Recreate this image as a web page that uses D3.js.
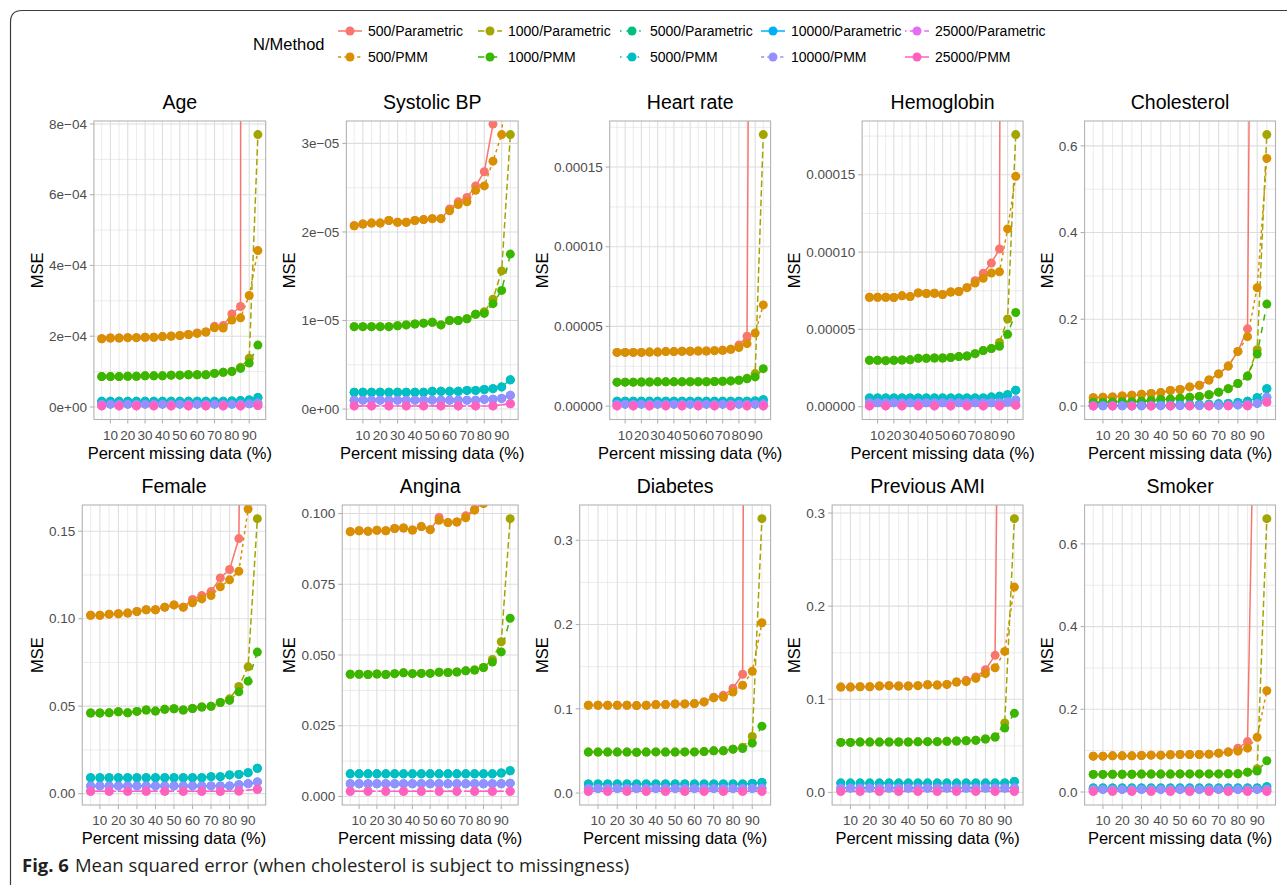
<!DOCTYPE html>
<html>
<head>
<meta charset="utf-8">
<script src="https://cdn.jsdelivr.net/npm/d3@7"></script>
<style>
  html, body { margin: 0; padding: 0; background: #fff; }
  svg { display: block; }
  text { font-family: "Liberation Sans", Arial, Helvetica, sans-serif; }
  .caption { font-family: "Open Sans", "Noto Sans", sans-serif; }
</style>
</head>
<body>
<svg id="chart" width="1287" height="885"></svg>
<script>
// ---- data -------------------------------------------------------------
const pctMissing = [5,10,15,20,25,30,35,40,45,50,55,60,65,70,75,80,85,90,95];
const xTickValues = [10,20,30,40,50,60,70,80,90];
const seriesLabels = ["500/Parametric","500/PMM","1000/Parametric","1000/PMM",
  "5000/Parametric","5000/PMM","10000/Parametric","10000/PMM","25000/Parametric","25000/PMM"];
const panelTitles = ["Age","Systolic BP","Heart rate","Hemoglobin","Cholesterol",
  "Female","Angina","Diabetes","Previous AMI","Smoker"];

// rows follow seriesLabels; 25000 runs were only done every 10%
const mseAge = [
  [1.93e-4,1.95e-4,1.95e-4,1.96e-4,1.96e-4,1.97e-4,1.97e-4,1.99e-4,2.01e-4,2.02e-4,2.05e-4,2.09e-4,2.12e-4,2.28e-4,2.30e-4,2.63e-4,2.84e-4,5.0e-2,9.0e-2],
  [1.93e-4,1.95e-4,1.95e-4,1.96e-4,1.96e-4,1.97e-4,1.97e-4,1.99e-4,2.00e-4,2.02e-4,2.05e-4,2.08e-4,2.12e-4,2.24e-4,2.23e-4,2.46e-4,2.52e-4,3.15e-4,4.42e-4],
  [8.6e-5,8.6e-5,8.6e-5,8.7e-5,8.7e-5,8.8e-5,8.8e-5,8.8e-5,9.0e-5,9.0e-5,9.1e-5,9.1e-5,9.1e-5,9.5e-5,9.8e-5,1.01e-4,1.12e-4,1.38e-4,7.70e-4],
  [8.6e-5,8.6e-5,8.6e-5,8.7e-5,8.7e-5,8.8e-5,8.8e-5,8.8e-5,9.0e-5,9.0e-5,9.1e-5,9.1e-5,9.1e-5,9.5e-5,9.8e-5,1.00e-4,1.09e-4,1.24e-4,1.75e-4],
  [1.6e-5,1.6e-5,1.6e-5,1.6e-5,1.6e-5,1.6e-5,1.6e-5,1.6e-5,1.6e-5,1.6e-5,1.6e-5,1.6e-5,1.6e-5,1.6e-5,1.6e-5,1.7e-5,1.8e-5,2.0e-5,2.7e-5],
  [1.6e-5,1.6e-5,1.6e-5,1.6e-5,1.6e-5,1.6e-5,1.6e-5,1.6e-5,1.6e-5,1.6e-5,1.6e-5,1.6e-5,1.6e-5,1.6e-5,1.6e-5,1.7e-5,1.8e-5,2.0e-5,2.7e-5],
  [8e-6,8e-6,8e-6,8e-6,8e-6,8e-6,8e-6,8e-6,8e-6,8e-6,8e-6,8e-6,8e-6,8e-6,8e-6,8e-6,8e-6,9e-6,1.1e-5],
  [8e-6,8e-6,8e-6,8e-6,8e-6,8e-6,8e-6,8e-6,8e-6,8e-6,8e-6,8e-6,8e-6,8e-6,8e-6,8e-6,8e-6,9e-6,1.1e-5],
  [3e-6,null,3e-6,null,3e-6,null,3e-6,null,3e-6,null,3e-6,null,3e-6,null,3e-6,null,3e-6,null,4e-6],
  [3e-6,null,3e-6,null,3e-6,null,3e-6,null,3e-6,null,3e-6,null,3e-6,null,3e-6,null,3e-6,null,4e-6]
];
const mseSystolic = [
  [2.07e-5,2.09e-5,2.10e-5,2.10e-5,2.13e-5,2.11e-5,2.11e-5,2.13e-5,2.14e-5,2.15e-5,2.15e-5,2.26e-5,2.34e-5,2.39e-5,2.52e-5,2.68e-5,3.22e-5,6.0e-4,9.0e-4],
  [2.07e-5,2.09e-5,2.10e-5,2.10e-5,2.13e-5,2.11e-5,2.11e-5,2.13e-5,2.14e-5,2.15e-5,2.15e-5,2.24e-5,2.31e-5,2.34e-5,2.47e-5,2.52e-5,2.80e-5,3.10e-5,4.5e-5],
  [9.3e-6,9.3e-6,9.3e-6,9.3e-6,9.3e-6,9.4e-6,9.5e-6,9.6e-6,9.7e-6,9.8e-6,9.5e-6,1.00e-5,1.00e-5,1.02e-5,1.07e-5,1.10e-5,1.24e-5,1.56e-5,3.10e-5],
  [9.3e-6,9.3e-6,9.3e-6,9.3e-6,9.3e-6,9.4e-6,9.5e-6,9.6e-6,9.7e-6,9.8e-6,9.5e-6,1.00e-5,1.00e-5,1.02e-5,1.07e-5,1.08e-5,1.19e-5,1.34e-5,1.75e-5],
  [1.9e-6,1.9e-6,1.9e-6,1.9e-6,1.9e-6,1.9e-6,1.9e-6,1.9e-6,1.9e-6,2.0e-6,2.0e-6,2.0e-6,2.0e-6,2.1e-6,2.1e-6,2.2e-6,2.3e-6,2.5e-6,3.3e-6],
  [1.9e-6,1.9e-6,1.9e-6,1.9e-6,1.9e-6,1.9e-6,1.9e-6,1.9e-6,1.9e-6,2.0e-6,2.0e-6,2.0e-6,2.0e-6,2.1e-6,2.1e-6,2.2e-6,2.3e-6,2.5e-6,3.3e-6],
  [1.0e-6,1.0e-6,1.0e-6,1.0e-6,1.0e-6,1.0e-6,1.0e-6,1.0e-6,1.0e-6,1.0e-6,1.0e-6,1.0e-6,1.0e-6,1.0e-6,1.0e-6,1.1e-6,1.1e-6,1.2e-6,1.55e-6],
  [1.0e-6,1.0e-6,1.0e-6,1.0e-6,1.0e-6,1.0e-6,1.0e-6,1.0e-6,1.0e-6,1.0e-6,1.0e-6,1.0e-6,1.0e-6,1.0e-6,1.0e-6,1.1e-6,1.1e-6,1.2e-6,1.55e-6],
  [3.5e-7,null,3.5e-7,null,3.5e-7,null,3.5e-7,null,3.5e-7,null,3.5e-7,null,3.5e-7,null,3.5e-7,null,3.5e-7,null,6e-7],
  [3.5e-7,null,3.5e-7,null,3.5e-7,null,3.5e-7,null,3.5e-7,null,3.5e-7,null,3.5e-7,null,3.5e-7,null,3.5e-7,null,6e-7]
];
const mseHeartRate = [
  [3.37e-5,3.37e-5,3.37e-5,3.37e-5,3.39e-5,3.39e-5,3.42e-5,3.42e-5,3.44e-5,3.44e-5,3.46e-5,3.46e-5,3.48e-5,3.50e-5,3.56e-5,3.83e-5,4.38e-5,1.0e-3,1.5e-3],
  [3.37e-5,3.37e-5,3.37e-5,3.37e-5,3.39e-5,3.39e-5,3.42e-5,3.42e-5,3.44e-5,3.44e-5,3.46e-5,3.46e-5,3.48e-5,3.50e-5,3.56e-5,3.67e-5,3.92e-5,4.58e-5,6.35e-5],
  [1.50e-5,1.50e-5,1.50e-5,1.51e-5,1.51e-5,1.52e-5,1.52e-5,1.52e-5,1.52e-5,1.53e-5,1.53e-5,1.53e-5,1.54e-5,1.56e-5,1.58e-5,1.62e-5,1.75e-5,2.04e-5,1.704e-4],
  [1.50e-5,1.50e-5,1.50e-5,1.51e-5,1.51e-5,1.52e-5,1.52e-5,1.52e-5,1.52e-5,1.53e-5,1.53e-5,1.53e-5,1.54e-5,1.56e-5,1.58e-5,1.62e-5,1.71e-5,1.83e-5,2.35e-5],
  [3.1e-6,3.1e-6,3.1e-6,3.1e-6,3.1e-6,3.1e-6,3.1e-6,3.1e-6,3.1e-6,3.1e-6,3.1e-6,3.1e-6,3.1e-6,3.1e-6,3.1e-6,3.1e-6,3.1e-6,3.2e-6,4.0e-6],
  [3.1e-6,3.1e-6,3.1e-6,3.1e-6,3.1e-6,3.1e-6,3.1e-6,3.1e-6,3.1e-6,3.1e-6,3.1e-6,3.1e-6,3.1e-6,3.1e-6,3.1e-6,3.1e-6,3.1e-6,3.2e-6,4.0e-6],
  [1.2e-6,1.2e-6,1.2e-6,1.2e-6,1.2e-6,1.2e-6,1.2e-6,1.2e-6,1.2e-6,1.2e-6,1.2e-6,1.2e-6,1.2e-6,1.2e-6,1.2e-6,1.2e-6,1.2e-6,1.2e-6,1.4e-6],
  [1.2e-6,1.2e-6,1.2e-6,1.2e-6,1.2e-6,1.2e-6,1.2e-6,1.2e-6,1.2e-6,1.2e-6,1.2e-6,1.2e-6,1.2e-6,1.2e-6,1.2e-6,1.2e-6,1.2e-6,1.2e-6,1.4e-6],
  [1e-7,null,1e-7,null,1e-7,null,1e-7,null,1e-7,null,1e-7,null,1e-7,null,1e-7,null,1e-7,null,1e-7],
  [1e-7,null,1e-7,null,1e-7,null,1e-7,null,1e-7,null,1e-7,null,1e-7,null,1e-7,null,1e-7,null,1e-7]
];
const mseHemoglobin = [
  [7.08e-5,7.08e-5,7.08e-5,7.06e-5,7.17e-5,7.12e-5,7.36e-5,7.32e-5,7.34e-5,7.25e-5,7.42e-5,7.45e-5,7.70e-5,8.15e-5,8.63e-5,9.29e-5,1.02e-4,2.0e-3,3.0e-3],
  [7.08e-5,7.08e-5,7.08e-5,7.06e-5,7.17e-5,7.12e-5,7.36e-5,7.32e-5,7.34e-5,7.25e-5,7.42e-5,7.45e-5,7.70e-5,8.00e-5,8.30e-5,8.65e-5,8.73e-5,1.15e-4,1.49e-4],
  [3.00e-5,3.00e-5,2.98e-5,3.00e-5,3.02e-5,3.03e-5,3.13e-5,3.13e-5,3.15e-5,3.15e-5,3.18e-5,3.24e-5,3.28e-5,3.43e-5,3.63e-5,3.76e-5,4.16e-5,5.67e-5,1.76e-4],
  [3.00e-5,3.00e-5,2.98e-5,3.00e-5,3.02e-5,3.03e-5,3.13e-5,3.13e-5,3.15e-5,3.15e-5,3.18e-5,3.24e-5,3.28e-5,3.43e-5,3.63e-5,3.76e-5,3.91e-5,4.68e-5,6.09e-5],
  [5.6e-6,5.6e-6,5.6e-6,5.6e-6,5.6e-6,5.6e-6,5.6e-6,5.6e-6,5.6e-6,5.6e-6,5.6e-6,5.6e-6,5.6e-6,5.6e-6,5.6e-6,6.2e-6,6.7e-6,7.7e-6,1.07e-5],
  [5.6e-6,5.6e-6,5.6e-6,5.6e-6,5.6e-6,5.6e-6,5.6e-6,5.6e-6,5.6e-6,5.6e-6,5.6e-6,5.6e-6,5.6e-6,5.6e-6,5.6e-6,6.2e-6,6.7e-6,7.7e-6,1.07e-5],
  [2.6e-6,2.6e-6,2.6e-6,2.6e-6,2.6e-6,2.6e-6,2.6e-6,2.6e-6,2.6e-6,2.6e-6,2.6e-6,2.6e-6,2.6e-6,2.6e-6,2.6e-6,2.6e-6,2.6e-6,3.2e-6,4.3e-6],
  [2.6e-6,2.6e-6,2.6e-6,2.6e-6,2.6e-6,2.6e-6,2.6e-6,2.6e-6,2.6e-6,2.6e-6,2.6e-6,2.6e-6,2.6e-6,2.6e-6,2.6e-6,2.6e-6,2.6e-6,3.2e-6,4.3e-6],
  [5e-7,null,5e-7,null,5e-7,null,5e-7,null,5e-7,null,5e-7,null,5e-7,null,5e-7,null,5e-7,null,1.0e-6],
  [5e-7,null,5e-7,null,5e-7,null,5e-7,null,5e-7,null,5e-7,null,5e-7,null,5e-7,null,5e-7,null,1.0e-6]
];
const mseCholesterol = [
  [0.019,0.020,0.021,0.023,0.025,0.027,0.029,0.031,0.036,0.038,0.044,0.048,0.060,0.074,0.092,0.126,0.178,3.2,5.0],
  [0.019,0.020,0.021,0.023,0.025,0.027,0.029,0.031,0.036,0.038,0.044,0.048,0.060,0.074,0.092,0.126,0.160,0.273,0.571],
  [0.008,0.008,0.009,0.010,0.010,0.011,0.013,0.015,0.016,0.018,0.020,0.022,0.026,0.032,0.040,0.052,0.069,0.130,0.626],
  [0.008,0.008,0.009,0.010,0.010,0.011,0.013,0.015,0.016,0.018,0.020,0.022,0.026,0.032,0.040,0.052,0.069,0.120,0.235],
  [0.0015,0.0015,0.0015,0.0018,0.0020,0.0020,0.0020,0.0025,0.0025,0.0030,0.0030,0.0030,0.0040,0.0050,0.0060,0.0080,0.0110,0.0190,0.0400],
  [0.0015,0.0015,0.0015,0.0018,0.0020,0.0020,0.0020,0.0025,0.0025,0.0030,0.0030,0.0030,0.0040,0.0050,0.0060,0.0080,0.0110,0.0190,0.0400],
  [0.0005,0.0005,0.0005,0.0005,0.0005,0.0005,0.0008,0.0008,0.0008,0.0010,0.0010,0.0010,0.0012,0.0015,0.0020,0.0025,0.0035,0.0060,0.0200],
  [0.0005,0.0005,0.0005,0.0005,0.0005,0.0005,0.0008,0.0008,0.0008,0.0010,0.0010,0.0010,0.0012,0.0015,0.0020,0.0025,0.0035,0.0060,0.0200],
  [0.0002,null,0.0002,null,0.0002,null,0.0002,null,0.0002,null,0.0002,null,0.0003,null,0.0004,null,0.0006,null,0.0090],
  [0.0002,null,0.0002,null,0.0002,null,0.0002,null,0.0002,null,0.0002,null,0.0003,null,0.0004,null,0.0006,null,0.0090]
];
const mseFemale = [
  [0.1020,0.1020,0.1026,0.1028,0.1032,0.1041,0.1051,0.1051,0.1066,0.1079,0.1066,0.1110,0.1132,0.1155,0.1233,0.1281,0.1458,0.60,0.90],
  [0.1020,0.1020,0.1026,0.1028,0.1032,0.1041,0.1051,0.1051,0.1066,0.1079,0.1066,0.1091,0.1113,0.1132,0.1182,0.1222,0.1271,0.1627,0.40],
  [0.0461,0.0461,0.0462,0.0468,0.0462,0.0470,0.0478,0.0472,0.0482,0.0485,0.0478,0.0487,0.0495,0.0499,0.0521,0.0542,0.0613,0.0725,0.1572],
  [0.0461,0.0461,0.0462,0.0468,0.0462,0.0470,0.0478,0.0472,0.0482,0.0485,0.0478,0.0487,0.0495,0.0499,0.0521,0.0533,0.0582,0.0643,0.0809],
  [0.0091,0.0091,0.0091,0.0091,0.0091,0.0091,0.0091,0.0091,0.0091,0.0091,0.0091,0.0091,0.0091,0.0097,0.0097,0.0107,0.0110,0.0120,0.0145],
  [0.0091,0.0091,0.0091,0.0091,0.0091,0.0091,0.0091,0.0091,0.0091,0.0091,0.0091,0.0091,0.0091,0.0097,0.0097,0.0107,0.0110,0.0120,0.0145],
  [0.0044,0.0044,0.0044,0.0044,0.0044,0.0044,0.0044,0.0044,0.0044,0.0044,0.0044,0.0044,0.0044,0.0044,0.0044,0.0044,0.0051,0.0057,0.0067],
  [0.0044,0.0044,0.0044,0.0044,0.0044,0.0044,0.0044,0.0044,0.0044,0.0044,0.0044,0.0044,0.0044,0.0044,0.0044,0.0044,0.0051,0.0057,0.0067],
  [0.0013,null,0.0013,null,0.0013,null,0.0013,null,0.0013,null,0.0013,null,0.0013,null,0.0013,null,0.0015,null,0.0025],
  [0.0013,null,0.0013,null,0.0013,null,0.0013,null,0.0013,null,0.0013,null,0.0013,null,0.0013,null,0.0015,null,0.0025]
];
const mseAngina = [
  [0.0936,0.0939,0.0937,0.0941,0.0939,0.0947,0.0949,0.0942,0.0954,0.0943,0.0986,0.0968,0.0970,0.0992,0.1015,0.1039,0.112,0.130,0.220],
  [0.0936,0.0939,0.0937,0.0941,0.0939,0.0947,0.0949,0.0942,0.0954,0.0943,0.0976,0.0968,0.0970,0.0985,0.1012,0.1035,0.110,0.125,0.200],
  [0.0432,0.0432,0.0431,0.0433,0.0431,0.0434,0.0437,0.0434,0.0435,0.0435,0.0439,0.0438,0.0440,0.0444,0.0447,0.0456,0.0484,0.0547,0.0982],
  [0.0432,0.0432,0.0431,0.0433,0.0431,0.0434,0.0437,0.0434,0.0435,0.0435,0.0439,0.0438,0.0440,0.0444,0.0447,0.0456,0.0475,0.0511,0.0630],
  [0.0080,0.0080,0.0080,0.0080,0.0080,0.0080,0.0080,0.0080,0.0080,0.0080,0.0080,0.0080,0.0080,0.0080,0.0080,0.0080,0.0080,0.0083,0.0091],
  [0.0080,0.0080,0.0080,0.0080,0.0080,0.0080,0.0080,0.0080,0.0080,0.0080,0.0080,0.0080,0.0080,0.0080,0.0080,0.0080,0.0080,0.0083,0.0091],
  [0.0045,0.0045,0.0045,0.0045,0.0045,0.0045,0.0045,0.0045,0.0045,0.0045,0.0045,0.0045,0.0045,0.0045,0.0045,0.0045,0.0045,0.0045,0.0047],
  [0.0045,0.0045,0.0045,0.0045,0.0045,0.0045,0.0045,0.0045,0.0045,0.0045,0.0045,0.0045,0.0045,0.0045,0.0045,0.0045,0.0045,0.0045,0.0047],
  [0.0018,null,0.0018,null,0.0018,null,0.0018,null,0.0018,null,0.0018,null,0.0018,null,0.0018,null,0.0018,null,0.0018],
  [0.0018,null,0.0018,null,0.0018,null,0.0018,null,0.0018,null,0.0018,null,0.0018,null,0.0018,null,0.0018,null,0.0018]
];
const mseDiabetes = [
  [0.1042,0.1042,0.1042,0.1042,0.1042,0.1038,0.1042,0.1050,0.1050,0.1058,0.1058,0.1062,0.1082,0.1137,0.1160,0.1244,0.1410,3.0,5.0],
  [0.1042,0.1042,0.1042,0.1042,0.1042,0.1038,0.1042,0.1050,0.1050,0.1058,0.1058,0.1062,0.1082,0.1129,0.1137,0.1200,0.1279,0.1445,0.2021],
  [0.0486,0.0486,0.0486,0.0486,0.0486,0.0484,0.0486,0.0488,0.0486,0.0486,0.0488,0.0488,0.0492,0.0501,0.0501,0.0521,0.0545,0.0671,0.3257],
  [0.0486,0.0486,0.0486,0.0486,0.0486,0.0484,0.0486,0.0488,0.0486,0.0486,0.0488,0.0488,0.0492,0.0501,0.0501,0.0521,0.0529,0.0592,0.0794],
  [0.0107,0.0107,0.0107,0.0107,0.0107,0.0107,0.0107,0.0107,0.0107,0.0107,0.0107,0.0107,0.0107,0.0107,0.0107,0.0107,0.0107,0.0114,0.0126],
  [0.0107,0.0107,0.0107,0.0107,0.0107,0.0107,0.0107,0.0107,0.0107,0.0107,0.0107,0.0107,0.0107,0.0107,0.0107,0.0107,0.0107,0.0114,0.0126],
  [0.0055,0.0055,0.0055,0.0055,0.0055,0.0055,0.0055,0.0055,0.0055,0.0055,0.0055,0.0055,0.0055,0.0055,0.0055,0.0055,0.0055,0.0056,0.0058],
  [0.0055,0.0055,0.0055,0.0055,0.0055,0.0055,0.0055,0.0055,0.0055,0.0055,0.0055,0.0055,0.0055,0.0055,0.0055,0.0055,0.0055,0.0056,0.0058],
  [0.0020,null,0.0020,null,0.0020,null,0.0020,null,0.0020,null,0.0020,null,0.0020,null,0.0020,null,0.0020,null,0.0020],
  [0.0020,null,0.0020,null,0.0020,null,0.0020,null,0.0020,null,0.0020,null,0.0020,null,0.0020,null,0.0020,null,0.0020]
];
const msePreviousAMI = [
  [0.1131,0.1131,0.1135,0.1135,0.1142,0.1146,0.1142,0.1142,0.1146,0.1156,0.1153,0.1160,0.1185,0.1203,0.1239,0.1318,0.1472,1.15,2.0],
  [0.1131,0.1131,0.1135,0.1135,0.1142,0.1146,0.1142,0.1142,0.1146,0.1156,0.1153,0.1160,0.1185,0.1189,0.1224,0.1275,0.1339,0.1514,0.2205],
  [0.0537,0.0537,0.0540,0.0540,0.0540,0.0541,0.0541,0.0541,0.0543,0.0545,0.0545,0.0548,0.0552,0.0555,0.0559,0.0573,0.0594,0.0745,0.2940],
  [0.0537,0.0537,0.0540,0.0540,0.0540,0.0541,0.0541,0.0541,0.0543,0.0545,0.0545,0.0548,0.0552,0.0555,0.0559,0.0573,0.0594,0.0691,0.0849],
  [0.0100,0.0100,0.0100,0.0100,0.0100,0.0100,0.0100,0.0100,0.0100,0.0100,0.0100,0.0100,0.0100,0.0100,0.0100,0.0100,0.0100,0.0102,0.0118],
  [0.0100,0.0100,0.0100,0.0100,0.0100,0.0100,0.0100,0.0100,0.0100,0.0100,0.0100,0.0100,0.0100,0.0100,0.0100,0.0100,0.0100,0.0102,0.0118],
  [0.0047,0.0047,0.0047,0.0047,0.0047,0.0047,0.0047,0.0047,0.0047,0.0047,0.0047,0.0047,0.0047,0.0047,0.0047,0.0047,0.0047,0.0047,0.0049],
  [0.0047,0.0047,0.0047,0.0047,0.0047,0.0047,0.0047,0.0047,0.0047,0.0047,0.0047,0.0047,0.0047,0.0047,0.0047,0.0047,0.0047,0.0047,0.0049],
  [0.0011,null,0.0011,null,0.0011,null,0.0011,null,0.0011,null,0.0011,null,0.0011,null,0.0011,null,0.0011,null,0.0011],
  [0.0011,null,0.0011,null,0.0011,null,0.0011,null,0.0011,null,0.0011,null,0.0011,null,0.0011,null,0.0011,null,0.0011]
];
const mseSmoker = [
  [0.0867,0.0867,0.0875,0.0875,0.0875,0.0884,0.0892,0.0892,0.0900,0.0908,0.0908,0.0908,0.0916,0.0940,0.0972,0.1060,0.1220,1.40,2.00],
  [0.0867,0.0867,0.0875,0.0875,0.0875,0.0884,0.0892,0.0892,0.0900,0.0908,0.0908,0.0908,0.0916,0.0940,0.0964,0.0988,0.1060,0.1325,0.2450],
  [0.0426,0.0426,0.0430,0.0430,0.0430,0.0434,0.0434,0.0434,0.0434,0.0438,0.0438,0.0438,0.0438,0.0438,0.0442,0.0442,0.0480,0.0562,0.6610],
  [0.0426,0.0426,0.0430,0.0430,0.0430,0.0434,0.0434,0.0434,0.0434,0.0438,0.0438,0.0438,0.0438,0.0438,0.0442,0.0442,0.0480,0.0506,0.0755],
  [0.0096,0.0096,0.0096,0.0096,0.0096,0.0096,0.0096,0.0096,0.0096,0.0096,0.0096,0.0096,0.0096,0.0096,0.0096,0.0096,0.0096,0.0100,0.0130],
  [0.0096,0.0096,0.0096,0.0096,0.0096,0.0096,0.0096,0.0096,0.0096,0.0096,0.0096,0.0096,0.0096,0.0096,0.0096,0.0096,0.0096,0.0100,0.0130],
  [0.0064,0.0064,0.0064,0.0064,0.0064,0.0064,0.0064,0.0064,0.0064,0.0064,0.0064,0.0064,0.0064,0.0064,0.0064,0.0064,0.0064,0.0064,0.0066],
  [0.0064,0.0064,0.0064,0.0064,0.0064,0.0064,0.0064,0.0064,0.0064,0.0064,0.0064,0.0064,0.0064,0.0064,0.0064,0.0064,0.0064,0.0064,0.0066],
  [0.0016,null,0.0016,null,0.0016,null,0.0016,null,0.0016,null,0.0016,null,0.0016,null,0.0016,null,0.0016,null,0.0016],
  [0.0016,null,0.0016,null,0.0016,null,0.0016,null,0.0016,null,0.0016,null,0.0016,null,0.0016,null,0.0016,null,0.0016]
];

// y-axis breaks and their printed labels, one list per panel
const yTicksAge = [0, 2e-4, 4e-4, 6e-4, 8e-4];
const yLabelsAge = ["0e+00", "2e\u221204", "4e\u221204", "6e\u221204", "8e\u221204"];
const yTicksSystolic = [0, 1e-5, 2e-5, 3e-5];
const yLabelsSystolic = ["0e+00", "1e\u221205", "2e\u221205", "3e\u221205"];
const yTicksSmall = [0, 5e-5, 1e-4, 1.5e-4];
const yLabelsSmall = ["0.00000", "0.00005", "0.00010", "0.00015"];
const yTicksTenths2 = [0, 0.2, 0.4, 0.6];
const yLabelsTenths2 = ["0.0", "0.2", "0.4", "0.6"];
const yTicksFemale = [0, 0.05, 0.10, 0.15];
const yLabelsFemale = ["0.00", "0.05", "0.10", "0.15"];
const yTicksAngina = [0, 0.025, 0.05, 0.075, 0.1];
const yLabelsAngina = ["0.000", "0.025", "0.050", "0.075", "0.100"];
const yTicksTenths = [0, 0.1, 0.2, 0.3];
const yLabelsTenths = ["0.0", "0.1", "0.2", "0.3"];

// ---- styling ---------------------------------------------------------
const seriesColors = ["#F8766D","#D89000","#A3A500","#39B600","#00BF7D",
  "#00BFC4","#00B0F6","#9590FF","#E76BF3","#FF62BC"];
const seriesDash = ["", "22", "42", "44", "13", "1343", "73", "2262", "12223242", "F282"];
const lineW = 1.5, dashUnit = 1.6, pointR = 4.5;
const gridColor = "#DEDEDE", borderColor = "#B3B3B3", tickTextColor = "#4D4D4D";

function dashArray(code) {
  if (!code) return null;
  return code.split("").map(c => parseInt(c, 16) * dashUnit).join(",");
}

const panels = [
  { title: panelTitles[0], data: mseAge, ticks: yTicksAge, labels: yLabelsAge },
  { title: panelTitles[1], data: mseSystolic, ticks: yTicksSystolic, labels: yLabelsSystolic },
  { title: panelTitles[2], data: mseHeartRate, ticks: yTicksSmall, labels: yLabelsSmall },
  { title: panelTitles[3], data: mseHemoglobin, ticks: yTicksSmall, labels: yLabelsSmall },
  { title: panelTitles[4], data: mseCholesterol, ticks: yTicksTenths2, labels: yLabelsTenths2 },
  { title: panelTitles[5], data: mseFemale, ticks: yTicksFemale, labels: yLabelsFemale },
  { title: panelTitles[6], data: mseAngina, ticks: yTicksAngina, labels: yLabelsAngina },
  { title: panelTitles[7], data: mseDiabetes, ticks: yTicksTenths, labels: yLabelsTenths },
  { title: panelTitles[8], data: msePreviousAMI, ticks: yTicksTenths, labels: yLabelsTenths },
  { title: panelTitles[9], data: mseSmoker, ticks: yTicksTenths2, labels: yLabelsTenths2 }
];

// ---- layout ----------------------------------------------------------
const svg = d3.select("#chart");
const colStep = 252.45;
const panelRight0 = 265.7;
const yLabelLeft0 = 48.5;
const yTitleX0 = 37;
const rowTop = [121, 505];
const rowBottom = [419.5, 805];

// outer frame with a rounded top-left corner
svg.append("path")
  .attr("d", "M10.5,885 L10.5,22 Q10.5,10.5 22,10.5 L1287,10.5")
  .attr("fill", "none").attr("stroke", "#3c3c3c").attr("stroke-width", 1.2);

const defs = svg.append("defs");

panels.forEach((p, i) => {
  const col = i % 5, row = Math.floor(i / 5);
  const top = rowTop[row], bottom = rowBottom[row];
  const right = panelRight0 + col * colStep;
  const g = svg.append("g");

  // y tick labels first so their width sets the panel's left edge
  const yLab = g.append("g").selectAll("text").data(p.ticks).join("text")
    .text((d, k) => p.labels[k])
    .attr("font-size", 13.5).attr("fill", tickTextColor)
    .attr("text-anchor", "end");
  let maxW = 0;
  yLab.each(function () { maxW = Math.max(maxW, this.getComputedTextLength()); });
  const left = yLabelLeft0 + col * colStep + maxW + 7.5;

  const x = d3.scaleLinear().domain([5 - 4.5, 95 + 4.5]).range([left, right]);

  // y limits follow every series except the two N=500 ones
  const shown = p.data.slice(2).flat().filter(v => v != null);
  const [lo, hi] = d3.extent(shown);
  const pad = (hi - lo) * 0.05;
  const y = d3.scaleLinear().domain([lo - pad, hi + pad]).range([bottom, top]);

  yLab.attr("x", left - 7).attr("y", d => y(d)).attr("dy", "0.35em");

  // panel background and grid
  g.append("rect").attr("x", left).attr("y", top)
    .attr("width", right - left).attr("height", bottom - top).attr("fill", "#fff");

  const step = p.ticks[1] - p.ticks[0];
  const yMinor = [];
  for (let k = -1; k < p.ticks.length; k++) {
    const v = p.ticks[0] + (k + 0.5) * step;
    if (v > y.domain()[0] && v < y.domain()[1]) yMinor.push(v);
  }
  const xMinor = [5,15,25,35,45,55,65,75,85,95];

  g.append("g").selectAll("line").data(yMinor).join("line")
    .attr("x1", left).attr("x2", right)
    .attr("y1", d => y(d)).attr("y2", d => y(d))
    .attr("stroke", gridColor).attr("stroke-width", 0.6);
  g.append("g").selectAll("line").data(xMinor).join("line")
    .attr("y1", top).attr("y2", bottom)
    .attr("x1", d => x(d)).attr("x2", d => x(d))
    .attr("stroke", gridColor).attr("stroke-width", 0.6);
  g.append("g").selectAll("line").data(p.ticks).join("line")
    .attr("x1", left).attr("x2", right)
    .attr("y1", d => y(d)).attr("y2", d => y(d))
    .attr("stroke", gridColor).attr("stroke-width", 1.1);
  g.append("g").selectAll("line").data(xTickValues).join("line")
    .attr("y1", top).attr("y2", bottom)
    .attr("x1", d => x(d)).attr("x2", d => x(d))
    .attr("stroke", gridColor).attr("stroke-width", 1.1);

  // marks, clipped to the panel
  const clipId = "clip" + i;
  defs.append("clipPath").attr("id", clipId).append("rect")
    .attr("x", left).attr("y", top).attr("width", right - left).attr("height", bottom - top);
  const marks = g.append("g").attr("clip-path", `url(#${clipId})`);

  const series = p.data.map((vals, s) => ({
    s, pts: pctMissing.map((pm, k) => ({ x: pm, v: vals[k] })).filter(d => d.v != null)
  }));
  const line = d3.line().x(d => x(d.x)).y(d => y(d.v));

  marks.append("g").selectAll("path").data(series).join("path")
    .attr("d", d => line(d.pts))
    .attr("fill", "none")
    .attr("stroke", d => seriesColors[d.s])
    .attr("stroke-width", lineW)
    .attr("stroke-dasharray", d => dashArray(seriesDash[d.s]));

  series.forEach(sr => {
    marks.append("g").selectAll("circle").data(sr.pts).join("circle")
      .attr("cx", d => x(d.x)).attr("cy", d => y(d.v)).attr("r", pointR)
      .attr("fill", seriesColors[sr.s]);
  });

  // border
  g.append("rect").attr("x", left).attr("y", top)
    .attr("width", right - left).attr("height", bottom - top)
    .attr("fill", "none").attr("stroke", borderColor).attr("stroke-width", 1.1);

  // ticks
  g.append("g").selectAll("line").data(p.ticks).join("line")
    .attr("x1", left - 4).attr("x2", left)
    .attr("y1", d => y(d)).attr("y2", d => y(d))
    .attr("stroke", borderColor).attr("stroke-width", 1.1);
  g.append("g").selectAll("line").data(xTickValues).join("line")
    .attr("y1", bottom).attr("y2", bottom + 4)
    .attr("x1", d => x(d)).attr("x2", d => x(d))
    .attr("stroke", borderColor).attr("stroke-width", 1.1);
  g.append("g").selectAll("text").data(xTickValues).join("text")
    .attr("x", d => x(d)).attr("y", bottom + 20.2)
    .attr("text-anchor", "middle").attr("font-size", 13.5).attr("fill", tickTextColor)
    .text(d => d);

  // titles
  g.append("text").attr("x", (left + right) / 2).attr("y", top - 12.5)
    .attr("text-anchor", "middle").attr("font-size", 19.5).attr("fill", "#000")
    .text(p.title);
  g.append("text").attr("x", (left + right) / 2).attr("y", bottom + 39)
    .attr("text-anchor", "middle").attr("font-size", 16.5).attr("fill", "#000")
    .text("Percent missing data (%)");
  g.append("text")
    .attr("transform", `translate(${yTitleX0 + col * colStep},${(top + bottom) / 2}) rotate(-90)`)
    .attr("text-anchor", "middle").attr("dy", "0.35em")
    .attr("font-size", 16.5).attr("fill", "#000")
    .text("MSE");
});

// ---- legend ------------------------------------------------------------
const legend = svg.append("g");
legend.append("text").attr("x", 253).attr("y", 44).attr("dy", "0.35em")
  .attr("font-size", 16.5).attr("fill", "#000").text("N/Method");
const legendTextX = [368, 508, 650, 791, 935];
const legendRowY = [31, 57];
seriesLabels.forEach((lab, s) => {
  const col = Math.floor(s / 2), row = s % 2;
  const tx = legendTextX[col], cy = legendRowY[row];
  const kx0 = tx - 30, kx1 = tx - 6;
  legend.append("line").attr("x1", kx0).attr("x2", kx1).attr("y1", cy).attr("y2", cy)
    .attr("stroke", seriesColors[s]).attr("stroke-width", lineW)
    .attr("stroke-dasharray", dashArray(seriesDash[s]));
  legend.append("circle").attr("cx", (kx0 + kx1) / 2).attr("cy", cy).attr("r", pointR)
    .attr("fill", seriesColors[s]);
  legend.append("text").attr("x", tx).attr("y", cy).attr("dy", "0.35em")
    .attr("font-size", 14).attr("fill", "#000").text(lab);
});

// ---- caption -----------------------------------------------------------
const cap = svg.append("text").attr("class", "caption").attr("x", 22).attr("y", 872)
  .attr("font-size", 18.5).attr("fill", "#231F20");
cap.append("tspan").attr("font-weight", "bold").text("Fig. 6");
cap.append("tspan").attr("dx", 6).text("Mean squared error (when cholesterol is subject to missingness)");
</script>
</body>
</html>
